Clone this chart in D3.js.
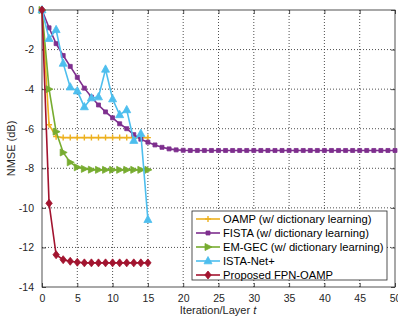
<!DOCTYPE html>
<html>
<head>
<meta charset="utf-8">
<script src="https://cdn.jsdelivr.net/npm/d3@7"></script>
<style>
  body { margin: 0; background: #fff; }
  svg { font-family: "Liberation Sans", Arial, sans-serif; }
  .grid line { stroke: #222; stroke-dasharray: 1,2; stroke-width: 0.8; }
  .tick text { fill: #262626; font-size: 10.5px; }
</style>
</head>
<body>
<div id="vis"></div>
<script>
// frame constants
const FRAME_WIDTH = 398;
const FRAME_HEIGHT = 322;
const MARGINS = {left: 42, right: 3, top: 10, bottom: 35};

// data
const ITER_15 = d3.range(0, 16);
const ITER_50 = d3.range(0, 51);

const OAMP = [0, -5.8, -6.4, -6.45, -6.45, -6.45, -6.45, -6.45, -6.45, -6.45, -6.45, -6.45, -6.45, -6.45, -6.45, -6.45];
const FISTA = [0, -0.9, -1.7, -2.3, -2.85, -3.4, -3.95, -4.4, -4.8, -5.15, -5.45, -5.75, -6.0, -6.3, -6.53, -6.68,
               -6.82, -6.94, -7.02, -7.07, -7.09, -7.1, -7.1, -7.1, -7.1, -7.1, -7.1, -7.1, -7.1, -7.1, -7.1,
               -7.1, -7.1, -7.1, -7.1, -7.1, -7.1, -7.1, -7.1, -7.1, -7.1, -7.1, -7.1, -7.1, -7.1, -7.1,
               -7.1, -7.1, -7.1, -7.1, -7.1];
const EMGEC = [0, -4.0, -6.15, -7.2, -7.7, -7.95, -8.03, -8.07, -8.08, -8.08, -8.08, -8.08, -8.08, -8.08, -8.08, -8.08];
const ISTANET = [0, -1.45, -1.0, -2.7, -3.9, -4.1, -4.9, -4.45, -4.4, -3.0, -4.5, -5.3, -5.05, -6.6, -6.25, -10.6];
const FPNOAMP = [0, -9.77, -12.37, -12.62, -12.7, -12.75, -12.78, -12.78, -12.78, -12.78, -12.78, -12.78, -12.78, -12.78, -12.78, -12.78];

const X_TICKS = [0, 5, 10, 15, 20, 25, 30, 35, 40, 45, 50];
const Y_TICKS = [0, -2, -4, -6, -8, -10, -12, -14];

const SERIES = [
  {name: "OAMP (w/ dictionary learning)", x: ITER_15, y: OAMP, color: "#EDB120", marker: "plus"},
  {name: "FISTA (w/ dictionary learning)", x: ITER_50, y: FISTA, color: "#7E2F8E", marker: "square"},
  {name: "EM-GEC (w/ dictionary learning)", x: ITER_15, y: EMGEC, color: "#77AC30", marker: "right"},
  {name: "ISTA-Net+", x: ITER_15, y: ISTANET, color: "#4DBEEE", marker: "up"},
  {name: "Proposed FPN-OAMP", x: ITER_15, y: FPNOAMP, color: "#A2142F", marker: "diamond"}
];

const VIS_WIDTH = FRAME_WIDTH - MARGINS.left - MARGINS.right;
const VIS_HEIGHT = FRAME_HEIGHT - MARGINS.top - MARGINS.bottom;

const SVG = d3.select("#vis")
  .append("svg")
    .attr("width", FRAME_WIDTH)
    .attr("height", FRAME_HEIGHT);

const X_SCALE = d3.scaleLinear().domain([0, 50]).range([MARGINS.left, MARGINS.left + VIS_WIDTH]);
const Y_SCALE = d3.scaleLinear().domain([-14, 0]).range([MARGINS.top + VIS_HEIGHT, MARGINS.top]);

// grid lines
const GRID = SVG.append("g").attr("class", "grid");
GRID.selectAll(".gx")
  .data(X_TICKS.slice(1, -1))
  .enter().append("line")
    .attr("x1", d => X_SCALE(d)).attr("x2", d => X_SCALE(d))
    .attr("y1", Y_SCALE(-14)).attr("y2", Y_SCALE(0));
GRID.selectAll(".gy")
  .data(Y_TICKS.slice(1, -1))
  .enter().append("line")
    .attr("y1", d => Y_SCALE(d)).attr("y2", d => Y_SCALE(d))
    .attr("x1", X_SCALE(0)).attr("x2", X_SCALE(50));

// axes with inward ticks on all four sides
function styleAxis(g) {
  g.select(".domain").remove();
  g.selectAll(".tick line").attr("stroke", "#262626").attr("stroke-width", 0.8);
}
SVG.append("g")
  .attr("transform", "translate(0," + Y_SCALE(-14) + ")")
  .call(d3.axisBottom(X_SCALE).tickValues(X_TICKS).tickSizeInner(-4).tickSizeOuter(0).tickPadding(8))
  .call(styleAxis);
SVG.append("g")
  .attr("transform", "translate(0," + Y_SCALE(0) + ")")
  .call(d3.axisTop(X_SCALE).tickValues(X_TICKS).tickSizeInner(-4).tickSizeOuter(0).tickFormat(""))
  .call(styleAxis);
SVG.append("g")
  .attr("transform", "translate(" + X_SCALE(0) + ",0)")
  .call(d3.axisLeft(Y_SCALE).tickValues(Y_TICKS).tickSizeInner(-4).tickSizeOuter(0).tickPadding(8)
          .tickFormat(d => d === 0 ? "0" : "-" + Math.abs(d)))
  .call(styleAxis);
SVG.append("g")
  .attr("transform", "translate(" + X_SCALE(50) + ",0)")
  .call(d3.axisRight(Y_SCALE).tickValues(Y_TICKS).tickSizeInner(-4).tickSizeOuter(0).tickFormat(""))
  .call(styleAxis);

// plot box
SVG.append("rect")
  .attr("x", X_SCALE(0)).attr("y", Y_SCALE(0))
  .attr("width", X_SCALE(50) - X_SCALE(0))
  .attr("height", Y_SCALE(-14) - Y_SCALE(0))
  .attr("fill", "none")
  .attr("stroke", "#262626")
  .attr("stroke-width", 0.8);

// marker shapes
function markerPath(type) {
  if (type === "plus") return "M-3,0H3M0,-3V3";
  if (type === "square") return "M-2,-2H2V2H-2Z";
  if (type === "right") return "M-3,-3.5L4,0L-3,3.5Z";
  if (type === "up") return "M0,-4.5L4,2.8H-4Z";
  return "M0,-4L3.2,0L0,4L-3.2,0Z";
}

const LINE = d3.line().x(d => X_SCALE(d[0])).y(d => Y_SCALE(d[1]));
const PLOT = SVG.append("g");

SERIES.forEach(s => {
  const pts = s.x.map((x, i) => [x, s.y[i]]);
  const g = PLOT.append("g");
  g.append("path")
    .datum(pts)
    .attr("d", LINE)
    .attr("fill", "none")
    .attr("stroke", s.color)
    .attr("stroke-width", 1.6);
  g.selectAll("path.mk")
    .data(pts)
    .enter().append("path")
      .attr("class", "mk")
      .attr("transform", d => "translate(" + X_SCALE(d[0]) + "," + Y_SCALE(d[1]) + ")")
      .attr("d", markerPath(s.marker))
      .attr("fill", s.color)
      .attr("stroke", s.color)
      .attr("stroke-width", s.marker === "plus" ? 1.4 : 0.8);
});

// legend
const LEG_X = 192, LEG_Y = 211, ROW = 14;
const LEGEND = SVG.append("g");
LEGEND.append("rect")
  .attr("x", LEG_X).attr("y", LEG_Y)
  .attr("width", 195).attr("height", 69)
  .attr("fill", "#fff")
  .attr("stroke", "#262626")
  .attr("stroke-width", 0.8);
SERIES.forEach((s, i) => {
  const cy = LEG_Y + 8 + i * ROW;
  LEGEND.append("line")
    .attr("x1", LEG_X + 4).attr("x2", LEG_X + 28)
    .attr("y1", cy).attr("y2", cy)
    .attr("stroke", s.color).attr("stroke-width", 1.6);
  LEGEND.append("path")
    .attr("transform", "translate(" + (LEG_X + 16) + "," + cy + ")")
    .attr("d", markerPath(s.marker))
    .attr("fill", s.color).attr("stroke", s.color)
    .attr("stroke-width", s.marker === "plus" ? 1.4 : 0.8);
  LEGEND.append("text")
    .attr("x", LEG_X + 31).attr("y", cy + 3.8)
    .attr("font-size", "11.2px")
    .attr("fill", "#000")
    .text(s.name);
});

// axis labels
const XLAB = SVG.append("text")
  .attr("x", 218).attr("y", 314)
  .attr("text-anchor", "middle")
  .attr("font-size", "11px")
  .attr("fill", "#262626");
XLAB.append("tspan").text("Iteration/Layer ");
XLAB.append("tspan").attr("font-style", "italic").text("t");

SVG.append("text")
  .attr("transform", "translate(15," + Y_SCALE(-7) + ") rotate(-90)")
  .attr("text-anchor", "middle")
  .attr("font-size", "11px")
  .attr("fill", "#262626")
  .text("NMSE (dB)");
</script>
</body>
</html>
